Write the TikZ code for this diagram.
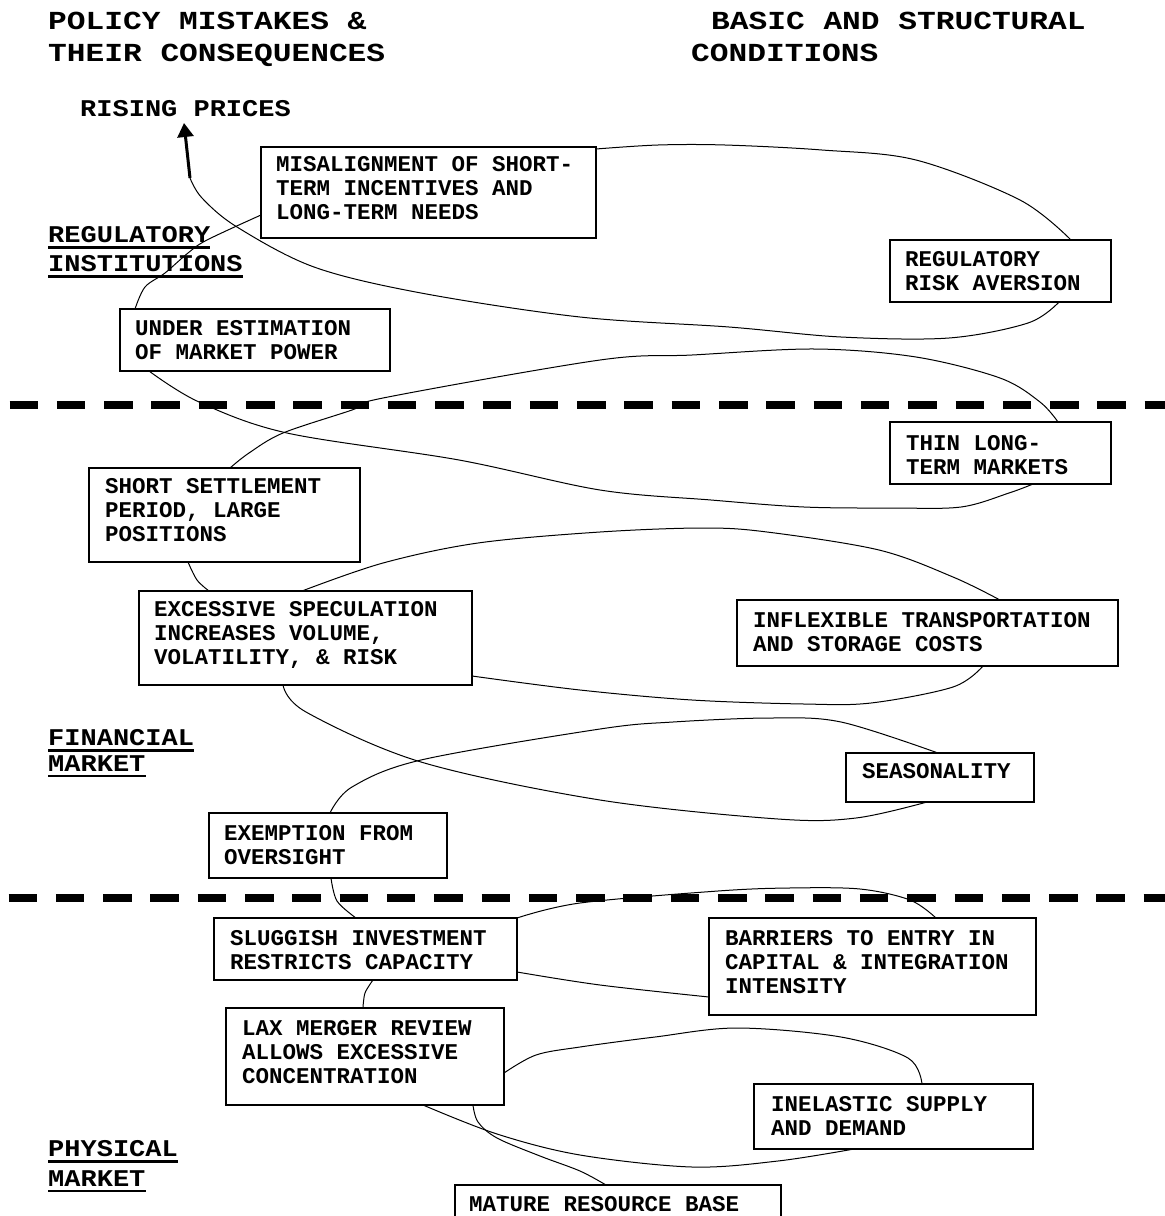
\documentclass[tikz,border=0pt]{standalone}
\usepackage{fontspec}
\newfontfamily\monofam{Liberation Mono}
\newfontfamily\secfam{Liberation Mono}[FakeStretch=1.125]
\newfontfamily\hdrfam{Liberation Mono}[FakeStretch=1.2]
\usetikzlibrary{calc,arrows.meta}
\begin{document}
\begin{tikzpicture}[x=1pt,y=-1pt,
  box/.style={draw, line width=1.5pt, inner sep=0pt, outer sep=0pt, anchor=north west},
  btxt/.style={font=\monofam\bfseries\fontsize{22.5}{24}\selectfont, align=left, inner sep=0pt, anchor=north west},
  hdr/.style={font=\hdrfam\bfseries\fontsize{26}{28}\selectfont, inner sep=0pt, anchor=north west},
  sec/.style={font=\secfam\bfseries\fontsize{24}{26}\selectfont, inner sep=0pt, anchor=north west},
  uline/.style={line width=2.5pt},
  conn/.style={line width=1pt},
  sep/.style={line width=8.5pt, dash pattern=on 28.5pt off 18.8pt}]
\useasboundingbox (0,0) rectangle (1165,1216);
% headers
\node[hdr] (h1) at (48,11.5) {POLICY MISTAKES \&};
\node[hdr] (h2) at (48,43.5) {THEIR CONSEQUENCES};
\node[hdr] (h3) at (711,11.5) {BASIC AND STRUCTURAL};
\node[hdr] (h4) at (691,43.5) {CONDITIONS};
\node[sec] (rise) at (80,100) {RISING PRICES};
\coordinate (tip) at (184,123);
\coordinate (bend) at (190,178);
% section labels
\node[sec] (reg) at (48,226) {REGULATORY};
\node[sec] (inst) at (48,255) {INSTITUTIONS};
\node[sec] (fin) at (48,729) {FINANCIAL};
\node[sec] (mkta) at (48,755) {MARKET};
\node[sec] (phys) at (48,1140) {PHYSICAL};
\node[sec] (mktb) at (48,1170) {MARKET};
\foreach \n in {reg,inst,fin,mkta,phys,mktb}
  \draw[uline] ($(\n.south west)+(0,5)$) -- ($(\n.south east)+(0,5)$);
% separators
\draw[sep] (9.5,405) -- (1165,405);
\draw[sep] (8.5,898) -- (1165,898);
% boxes
\node[box, minimum width=335pt, minimum height=91pt] (mis) at (261,147) {};
\node[box, minimum width=221pt, minimum height=62pt] (risk) at (890,240) {};
\node[box, minimum width=270pt, minimum height=62pt] (under) at (120,309) {};
\node[box, minimum width=221pt, minimum height=62pt] (thin) at (890,422) {};
\node[box, minimum width=271pt, minimum height=94pt] (short) at (89,468) {};
\node[box, minimum width=333pt, minimum height=94pt] (exc) at (139,591) {};
\node[box, minimum width=381pt, minimum height=66pt] (infl) at (737,600) {};
\node[box, minimum width=188pt, minimum height=49pt] (seas) at (846,753) {};
\node[box, minimum width=238pt, minimum height=65pt] (exem) at (209,813) {};
\node[box, minimum width=303pt, minimum height=62pt] (slug) at (214,918) {};
\node[box, minimum width=327pt, minimum height=97pt] (barr) at (709,918) {};
\node[box, minimum width=278pt, minimum height=97pt] (lax) at (226,1008) {};
\node[box, minimum width=279pt, minimum height=65pt] (inel) at (754,1084) {};
\node[box, minimum width=326pt, minimum height=70pt] (mat) at (455,1185) {};
% box texts
\node[btxt] (mist) at (276,156) {MISALIGNMENT OF SHORT-\\TERM INCENTIVES AND\\LONG-TERM NEEDS};
\node[btxt] (riskt) at (905,251) {REGULATORY\\RISK AVERSION};
\node[btxt] (undert) at (135,320) {UNDER ESTIMATION\\OF MARKET POWER};
\node[btxt] (thint) at (906,435) {THIN LONG-\\TERM MARKETS};
\node[btxt] (shortt) at (105,478) {SHORT SETTLEMENT\\PERIOD, LARGE\\POSITIONS};
\node[btxt] (exct) at (154,601) {EXCESSIVE SPECULATION\\INCREASES VOLUME,\\VOLATILITY, \& RISK};
\node[btxt] (inflt) at (753,612) {INFLEXIBLE TRANSPORTATION\\AND STORAGE COSTS};
\node[btxt] (seast) at (862,763) {SEASONALITY};
\node[btxt] (exemt) at (224,825) {EXEMPTION FROM\\OVERSIGHT};
\node[btxt] (slugt) at (230,930) {SLUGGISH INVESTMENT\\RESTRICTS CAPACITY};
\node[btxt] (barrt) at (725,930) {BARRIERS TO ENTRY IN\\CAPITAL \& INTEGRATION\\INTENSITY};
\node[btxt] (laxt) at (242,1020) {LAX MERGER REVIEW\\ALLOWS EXCESSIVE\\CONCENTRATION};
\node[btxt] (inelt) at (771,1096) {INELASTIC SUPPLY\\AND DEMAND};
\node[btxt] (matt) at (469,1196) {MATURE RESOURCE BASE};
% connectors (one snaking chain)
\draw[conn] plot[smooth, tension=0.55] coordinates {($(mat.north west)+(151,0)$) (580,1171) (540,1156) (497,1138) (478,1122) ($(lax.south west)+(247,0)$)};
\draw[conn] plot[smooth, tension=0.55] coordinates {($(lax.south west)+(197,0)$) (497,1134) (580,1155) (692,1167) (778,1161) ($(inel.south west)+(100,0)$)};
\draw[conn] plot[smooth, tension=0.55] coordinates {($(inel.north west)+(168,0)$) (908,1058) (841,1037) (737,1028) (655,1037) (580,1047) (536,1055) ($(lax.north east)+(0,65)$)};
\draw[conn] plot[smooth, tension=0.55] coordinates {($(lax.north west)+(137,0)$) (365,993) ($(slug.south west)+(159,0)$)};
\draw[conn] plot[smooth, tension=0.55] coordinates {($(slug.north east)+(0,54)$) (600,985) ($(barr.north west)+(0,79)$)};
\draw[conn] plot[smooth, tension=0.55] coordinates {($(barr.north west)+(227,0)$) (910,900) (860,889) (789,888) (718,891) (580,903) (slug.north east)};
\draw[conn] plot[smooth, tension=0.55] coordinates {($(slug.north west)+(142,0)$) (337,901) ($(exem.south west)+(122,0)$)};
\draw[conn] plot[smooth, tension=0.55] coordinates {($(exem.north west)+(121,0)$) (352,787) (421,760) (600,729) (673,722) (770,718) (841,722) ($(seas.north west)+(92,0)$)};
\draw[conn] plot[smooth, tension=0.55] coordinates {($(seas.south west)+(81,0)$) (856,818) (778,819) (600,800) (421,762) (306,712) ($(exc.south west)+(144,0)$)};
\draw[conn] plot[smooth, tension=0.55] coordinates {($(exc.north east)+(0,85)$) (580,690) (692,700) (804,704) (871,703) (953,687) ($(infl.south west)+(246,0)$)};
\draw[conn] plot[smooth, tension=0.55] coordinates {($(infl.north west)+(263,0)$) (953,577) (879,550) (767,532) (703,528) (600,532) (478,543) (383,563) ($(exc.north west)+(163,0)$)};
\draw[conn] plot[smooth, tension=0.55] coordinates {($(exc.north west)+(70,0)$) (197,580) ($(short.south west)+(99,0)$)};
\draw[conn] plot[smooth, tension=0.55] coordinates {($(short.north west)+(141,0)$) (249,453) (283,433) (352,410) (383,398) (600,360) (692,355) (815,349) (916,357) (1000,378) (1040,402) ($(thin.north west)+(168,0)$)};
\draw[conn] plot[smooth, tension=0.55] coordinates {($(thin.south west)+(143,0)$) (1009,493) (961,507) (893,508) (804,507) (711,500) (600,490) (459,460) (287,433) (199,402) ($(under.south west)+(29,0)$)};
\draw[conn] plot[smooth, tension=0.55] coordinates {($(under.north west)+(15,0)$) (145,287) (165,273) (188,253) (207,240) ($(mis.north west)+(0,68)$)};
\draw[conn] plot[smooth, tension=0.55] coordinates {($(mis.north east)+(0,2)$) (658,145) (725,145) (822,150) (916,160) (1020,200) ($(risk.north west)+(181,0)$)};
\draw[conn] plot[smooth, tension=0.55] coordinates {($(risk.south west)+(169,0)$) (1028,323) (949,338) (841,337) (729,327) (580,317) (421,293) (314,267) (237,227) (202,198) (bend)};
\draw[line width=3pt, -{Triangle[length=14pt, width=16pt]}] (bend) -- (tip);
\end{tikzpicture}
\end{document}
